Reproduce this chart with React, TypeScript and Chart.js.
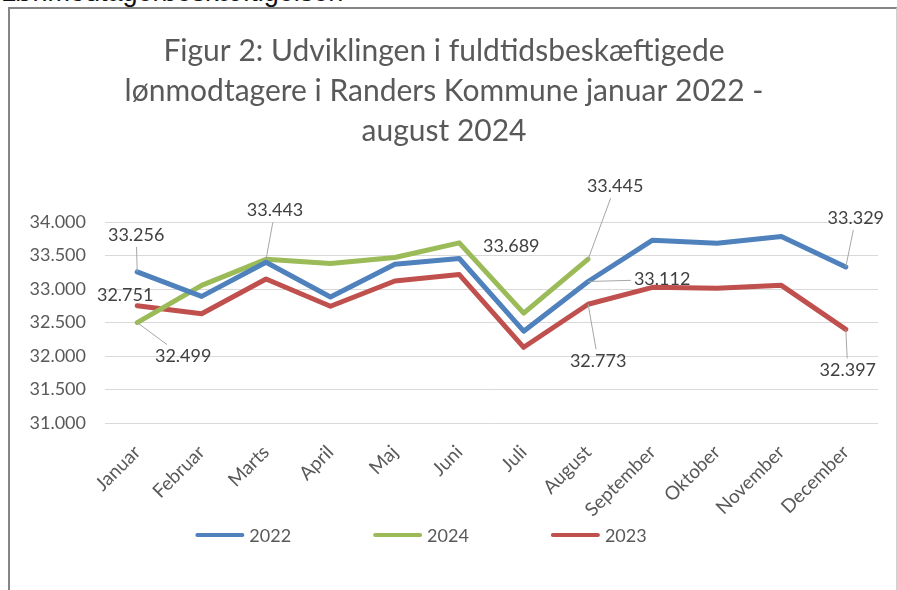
import React, { useEffect, useRef } from "react";
import { Chart, registerables } from "chart.js";

Chart.register(...registerables);

// ---- data ----
const months = [
  "Januar", "Februar", "Marts", "April", "Maj", "Juni",
  "Juli", "August", "September", "Oktober", "November", "December",
];
const series2022 = [33256, 32890, 33400, 32880, 33370, 33455, 32370, 33112, 33728, 33682, 33782, 33329];
const series2024 = [32499, 33055, 33443, 33382, 33470, 33689, 32640, 33445];
const series2023 = [32751, 32630, 33150, 32742, 33120, 33215, 32130, 32773, 33025, 33010, 33055, 32397];
const seriesNames = ["2022", "2024", "2023"];
const yMin = 31000;
const yMax = 34000;
const yStep = 500;
const titleLines = [
  "Figur 2: Udviklingen i fuldtidsbeskæftigede",
  "lønmodtagere i Randers Kommune januar 2022 -",
  "august 2024",
];
const headingText = "Lønmodtagerbeskæftigelsen";

// which points carry a value label (series index, point index) and where it sits
const labelPlacements = [
  { series: 0, index: 0, dx: -1, dy: -37, leader: true },
  { series: 2, index: 0, dx: -12, dy: -10, leader: false },
  { series: 1, index: 0, dx: 46, dy: 34, leader: true },
  { series: 1, index: 2, dx: 9, dy: -49, leader: true },
  { series: 1, index: 5, dx: 52, dy: 3, leader: false },
  { series: 1, index: 7, dx: 27, dy: -73, leader: true },
  { series: 0, index: 7, dx: 74, dy: -2, leader: true },
  { series: 2, index: 7, dx: 10, dy: 57, leader: true },
  { series: 0, index: 11, dx: 10, dy: -49, leader: true },
  { series: 2, index: 11, dx: 2, dy: 41, leader: true },
];

const COLORS = ["#4F81BD", "#9BBB59", "#C0504D"];
const FONT = "Lato, 'Open Sans', sans-serif";
const TEXT = "#595959";

const fmt = (v: number) =>
  Math.round(v).toString().replace(/\B(?=(\d{3})+(?!\d))/g, ".");

const valueLabelsPlugin = {
  id: "valueLabels",
  afterDatasetsDraw(chart: any) {
    const ctx = chart.ctx;
    ctx.save();
    ctx.font = `18px ${FONT}`;
    ctx.textAlign = "center";
    ctx.textBaseline = "middle";
    for (const p of labelPlacements) {
      const meta = chart.getDatasetMeta(p.series);
      const el = meta.data[p.index];
      if (!el) continue;
      const value = chart.data.datasets[p.series].data[p.index] as number;
      const text = fmt(value);
      const cx = el.x + p.dx;
      const cy = el.y + p.dy;
      if (p.leader) {
        const w = ctx.measureText(text).width;
        const hw = w / 2 + 3;
        const hh = 12;
        const ddx = el.x - cx;
        const ddy = el.y - cy;
        const s = Math.min(
          ddx === 0 ? Infinity : hw / Math.abs(ddx),
          ddy === 0 ? Infinity : hh / Math.abs(ddy)
        );
        if (s < 1) {
          ctx.beginPath();
          ctx.strokeStyle = "#a6a6a6";
          ctx.lineWidth = 1;
          ctx.moveTo(cx + ddx * s, cy + ddy * s);
          ctx.lineTo(el.x, el.y);
          ctx.stroke();
        }
      }
      ctx.fillStyle = "#404040";
      ctx.fillText(text, cx, cy);
    }
    ctx.restore();
  },
};

const legendPlugin = {
  id: "lineLegend",
  afterDraw(chart: any) {
    const ctx = chart.ctx;
    ctx.save();
    ctx.font = `18px ${FONT}`;
    ctx.textBaseline = "middle";
    ctx.textAlign = "left";
    const lineLen = 49;
    const textGap = 5;
    const itemGap = 82;
    const ds = chart.data.datasets;
    const widths = ds.map((d: any) => lineLen + textGap + ctx.measureText(d.label).width);
    const total = widths.reduce((a: number, b: number) => a + b, 0) + itemGap * (ds.length - 1);
    let x = 411 - total / 2;
    const y = 525;
    ds.forEach((d: any, i: number) => {
      ctx.beginPath();
      ctx.strokeStyle = d.borderColor;
      ctx.lineWidth = 4;
      ctx.lineCap = "round";
      ctx.moveTo(x + 2, y);
      ctx.lineTo(x + lineLen - 2, y);
      ctx.stroke();
      ctx.fillStyle = TEXT;
      ctx.fillText(d.label, x + lineLen + textGap, y + 1);
      x += widths[i] + itemGap;
    });
    ctx.restore();
  },
};

export default function App() {
  const ref = useRef<HTMLCanvasElement>(null);

  useEffect(() => {
    if (!ref.current) return;
    const chart = new Chart(ref.current, {
      type: "line",
      data: {
        labels: months,
        datasets: [
          { label: seriesNames[0], data: series2022, borderColor: COLORS[0], backgroundColor: COLORS[0] },
          { label: seriesNames[1], data: series2024, borderColor: COLORS[1], backgroundColor: COLORS[1] },
          { label: seriesNames[2], data: series2023, borderColor: COLORS[2], backgroundColor: COLORS[2] },
        ].map((d) => ({
          ...d,
          borderWidth: 5,
          pointRadius: 0,
          pointHoverRadius: 0,
          tension: 0,
          fill: false,
          borderJoinStyle: "round" as const,
          borderCapStyle: "round" as const,
        })),
      },
      options: {
        responsive: false,
        animation: false,
        events: [],
        layout: { padding: { left: 0, right: 15, top: 0, bottom: 0 } },
        plugins: {
          legend: { display: false },
          tooltip: { enabled: false },
          title: {
            display: true,
            text: titleLines,
            color: TEXT,
            font: { family: FONT, size: 30, weight: "normal", lineHeight: 40 / 30 },
            padding: { top: 21, bottom: 71 },
          },
        },
        scales: {
          x: {
            type: "category",
            offset: true,
            grid: { display: false },
            border: { display: false },
            ticks: {
              autoSkip: false,
              maxRotation: 45,
              minRotation: 45,
              color: TEXT,
              padding: 10,
              font: { family: FONT, size: 19 },
            },
            afterFit: (s: any) => {
              s.height = 167;
            },
          },
          y: {
            min: yMin,
            max: yMax,
            grid: { color: "#d9d9d9", lineWidth: 1, drawTicks: false },
            border: { display: false },
            ticks: {
              stepSize: yStep,
              color: TEXT,
              padding: 19,
              font: { family: FONT, size: 18 },
              callback: (v: any) => fmt(Number(v)),
            },
            afterFit: (s: any) => {
              s.width = 95;
            },
          },
        },
      },
      plugins: [valueLabelsPlugin, legendPlugin],
    });
    return () => chart.destroy();
  }, []);

  return (
    <div
      style={{
        position: "absolute",
        left: 0,
        top: 0,
        width: 897,
        height: 590,
        overflow: "hidden",
        background: "#ffffff",
      }}
    >
      <div
        style={{
          position: "absolute",
          left: 1,
          top: -21,
          fontFamily: "'Liberation Sans', Arial, sans-serif",
          fontSize: 27,
          lineHeight: "27px",
          color: "#111",
          whiteSpace: "nowrap",
        }}
      >
        {headingText}
      </div>
      <div
        style={{
          position: "absolute",
          left: 8,
          top: 7,
          width: 886,
          height: 600,
          borderLeft: "2px solid #858585",
          borderTop: "2px solid #858585",
          borderRight: "1px solid #d0d0d0",
        }}
      />
      <canvas
        ref={ref}
        width={883}
        height={580}
        style={{ position: "absolute", left: 10, top: 10, width: 883, height: 580 }}
      />
    </div>
  );
}
